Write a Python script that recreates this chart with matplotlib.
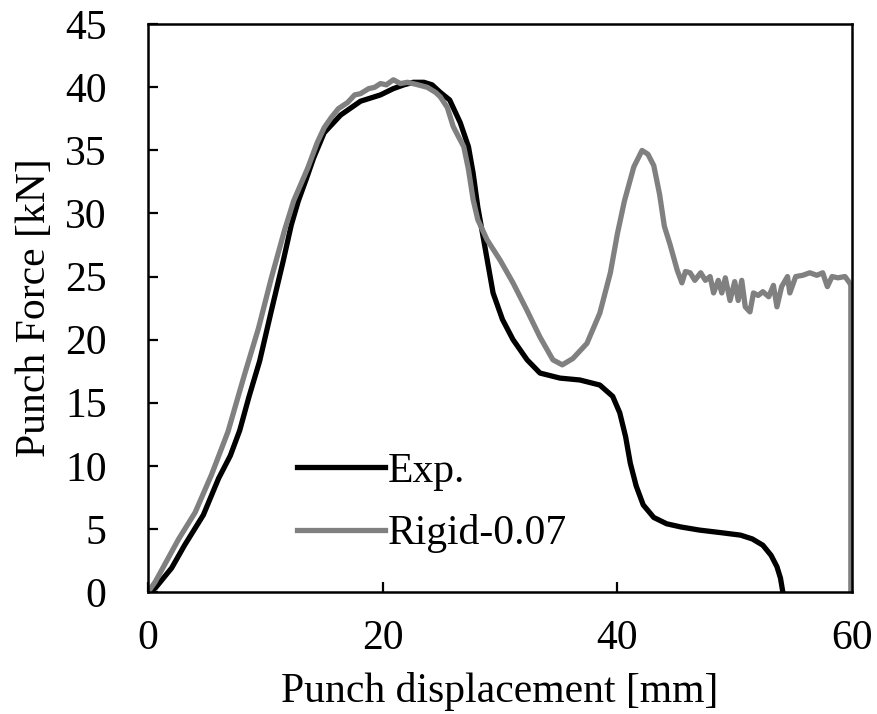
import matplotlib
matplotlib.use("Agg")
import matplotlib.pyplot as plt

plt.rcParams['font.family'] = ['Liberation Serif', 'DejaVu Serif']

# Experimental curve (Exp.)
exp_x = [0, 0.6, 2.0, 3.1, 4.7, 6.0, 7.0, 7.8, 8.6, 9.5, 10.5, 11.5, 12.2, 12.8, 13.5, 14.1,
         15.0, 16.4, 18.1, 19.8, 20.9, 21.8, 22.6, 23.5, 24.2, 24.9, 25.7, 26.6, 27.3,
         27.7, 28.1, 28.6, 29.0, 29.4, 30.2, 31.1, 32.3, 33.4, 35.1, 36.8, 38.5, 39.6,
         40.2, 40.7, 41.1, 41.6, 42.2, 43.1, 44.2, 45.4, 47.0, 48.8, 50.5, 51.5, 52.4,
         53.1, 53.6, 53.9, 54.1]
exp_y = [0, 0.3, 1.9, 3.7, 6.1, 9.0, 10.8, 12.8, 15.5, 18.3, 22.3, 26.2, 29.1, 31.0, 32.8, 34.4,
         36.4, 37.8, 38.9, 39.4, 39.9, 40.2, 40.4, 40.4, 40.2, 39.6, 39.0, 37.2, 35.3,
         33.2, 30.5, 27.9, 25.8, 23.7, 21.6, 20.0, 18.4, 17.35, 16.95, 16.8, 16.4, 15.5,
         14.2, 12.3, 10.2, 8.4, 6.9, 5.9, 5.4, 5.15, 4.9, 4.7, 4.5, 4.2, 3.7,
         2.9, 2.0, 1.1, 0]

# Simulation curve (Rigid-0.07)
sim_x = [0, 0.6, 2.6, 4.0, 5.4, 6.8, 8.2, 9.4, 10.5, 11.6, 12.4, 13.6, 14.4, 15.0, 15.6,
         16.2, 17.0, 17.6, 18.1, 18.8, 19.3, 19.8, 20.3, 20.9, 21.5, 22.1, 23.0, 23.8,
         24.5, 24.9, 25.5, 26.0, 26.5, 26.9, 27.3, 27.7, 28.1, 28.9, 30.0, 31.1, 32.3,
         33.4, 34.5, 35.3, 36.2, 37.4, 38.5, 39.4, 40.0, 40.6, 41.4, 42.1, 42.6, 43.1,
         43.6, 44.0, 44.5, 45.1, 45.5,
         45.8, 46.2, 46.6, 47.1, 47.5, 47.9, 48.2, 48.6, 48.9, 49.2, 49.6, 50.0, 50.3,
         50.6, 50.9, 51.3, 51.6, 52.0, 52.4, 52.9, 53.3, 53.6, 54.0, 54.5, 54.7, 55.2,
         55.8, 56.4, 57.0, 57.5, 57.9, 58.3, 58.8, 59.4, 59.8, 59.9, 59.9]
sim_y = [0, 0.8, 4.2, 6.3, 9.3, 12.7, 17.2, 20.9, 24.9, 28.6, 31.0, 33.6, 35.6, 36.8, 37.6,
         38.3, 38.8, 39.4, 39.5, 39.9, 40.0, 40.3, 40.2, 40.6, 40.3, 40.4, 40.2, 40.0,
         39.6, 39.25, 38.4, 36.9, 36.0, 35.3, 33.5, 31.1, 29.5, 27.9, 26.3, 24.5, 22.3,
         20.2, 18.4, 18.0, 18.5, 19.7, 22.1, 25.3, 28.4, 31.0, 33.7, 35.0, 34.7, 33.8,
         31.5, 29.0, 27.5, 25.5, 24.5,
         25.4, 25.3, 24.7, 25.3, 24.7, 25.0, 23.7, 24.7, 23.7, 24.9, 23.1, 24.6, 23.1,
         24.7, 22.6, 22.2, 23.7, 23.5, 23.8, 23.4, 24.3, 22.6, 24.2, 25.0, 23.7, 25.0,
         25.1, 25.3, 25.1, 25.3, 24.2, 25.0, 24.9, 25.0, 24.5, 24.3, 0]

x_ticks = [0, 20, 40, 60]
y_ticks = [0, 5, 10, 15, 20, 25, 30, 35, 40, 45]

fig = plt.figure(figsize=(8.77, 7.14), dpi=100)
ax = fig.add_axes([0.169, 0.171, 0.8025, 0.795])

ax.plot(exp_x, exp_y, color='black', lw=3.8, label='Exp.', solid_joinstyle='round')
ax.plot(sim_x, sim_y, color='#808080', lw=3.8, label='Rigid-0.07', solid_joinstyle='round')

ax.set_xlim(0, 60)
ax.set_ylim(0, 45)
ax.set_xticks(x_ticks)
ax.set_yticks(y_ticks)
ax.tick_params(direction='in', length=7, width=1.6, labelsize=30)
ax.tick_params(axis='y', pad=30)
ax.tick_params(axis='x', pad=20)
for s in ax.spines.values():
    s.set_linewidth(1.8)

ax.set_xlabel('Punch displacement [mm]', fontsize=30, labelpad=10)
ax.set_ylabel('Punch Force [kN]', fontsize=30, labelpad=8)

ax.legend(loc='lower left', bbox_to_anchor=(0.182, 0.031), frameon=False, fontsize=30,
          handlelength=2.1, handletextpad=0.08, labelspacing=0.57, borderpad=0)

fig.savefig('out.png', dpi=100)
